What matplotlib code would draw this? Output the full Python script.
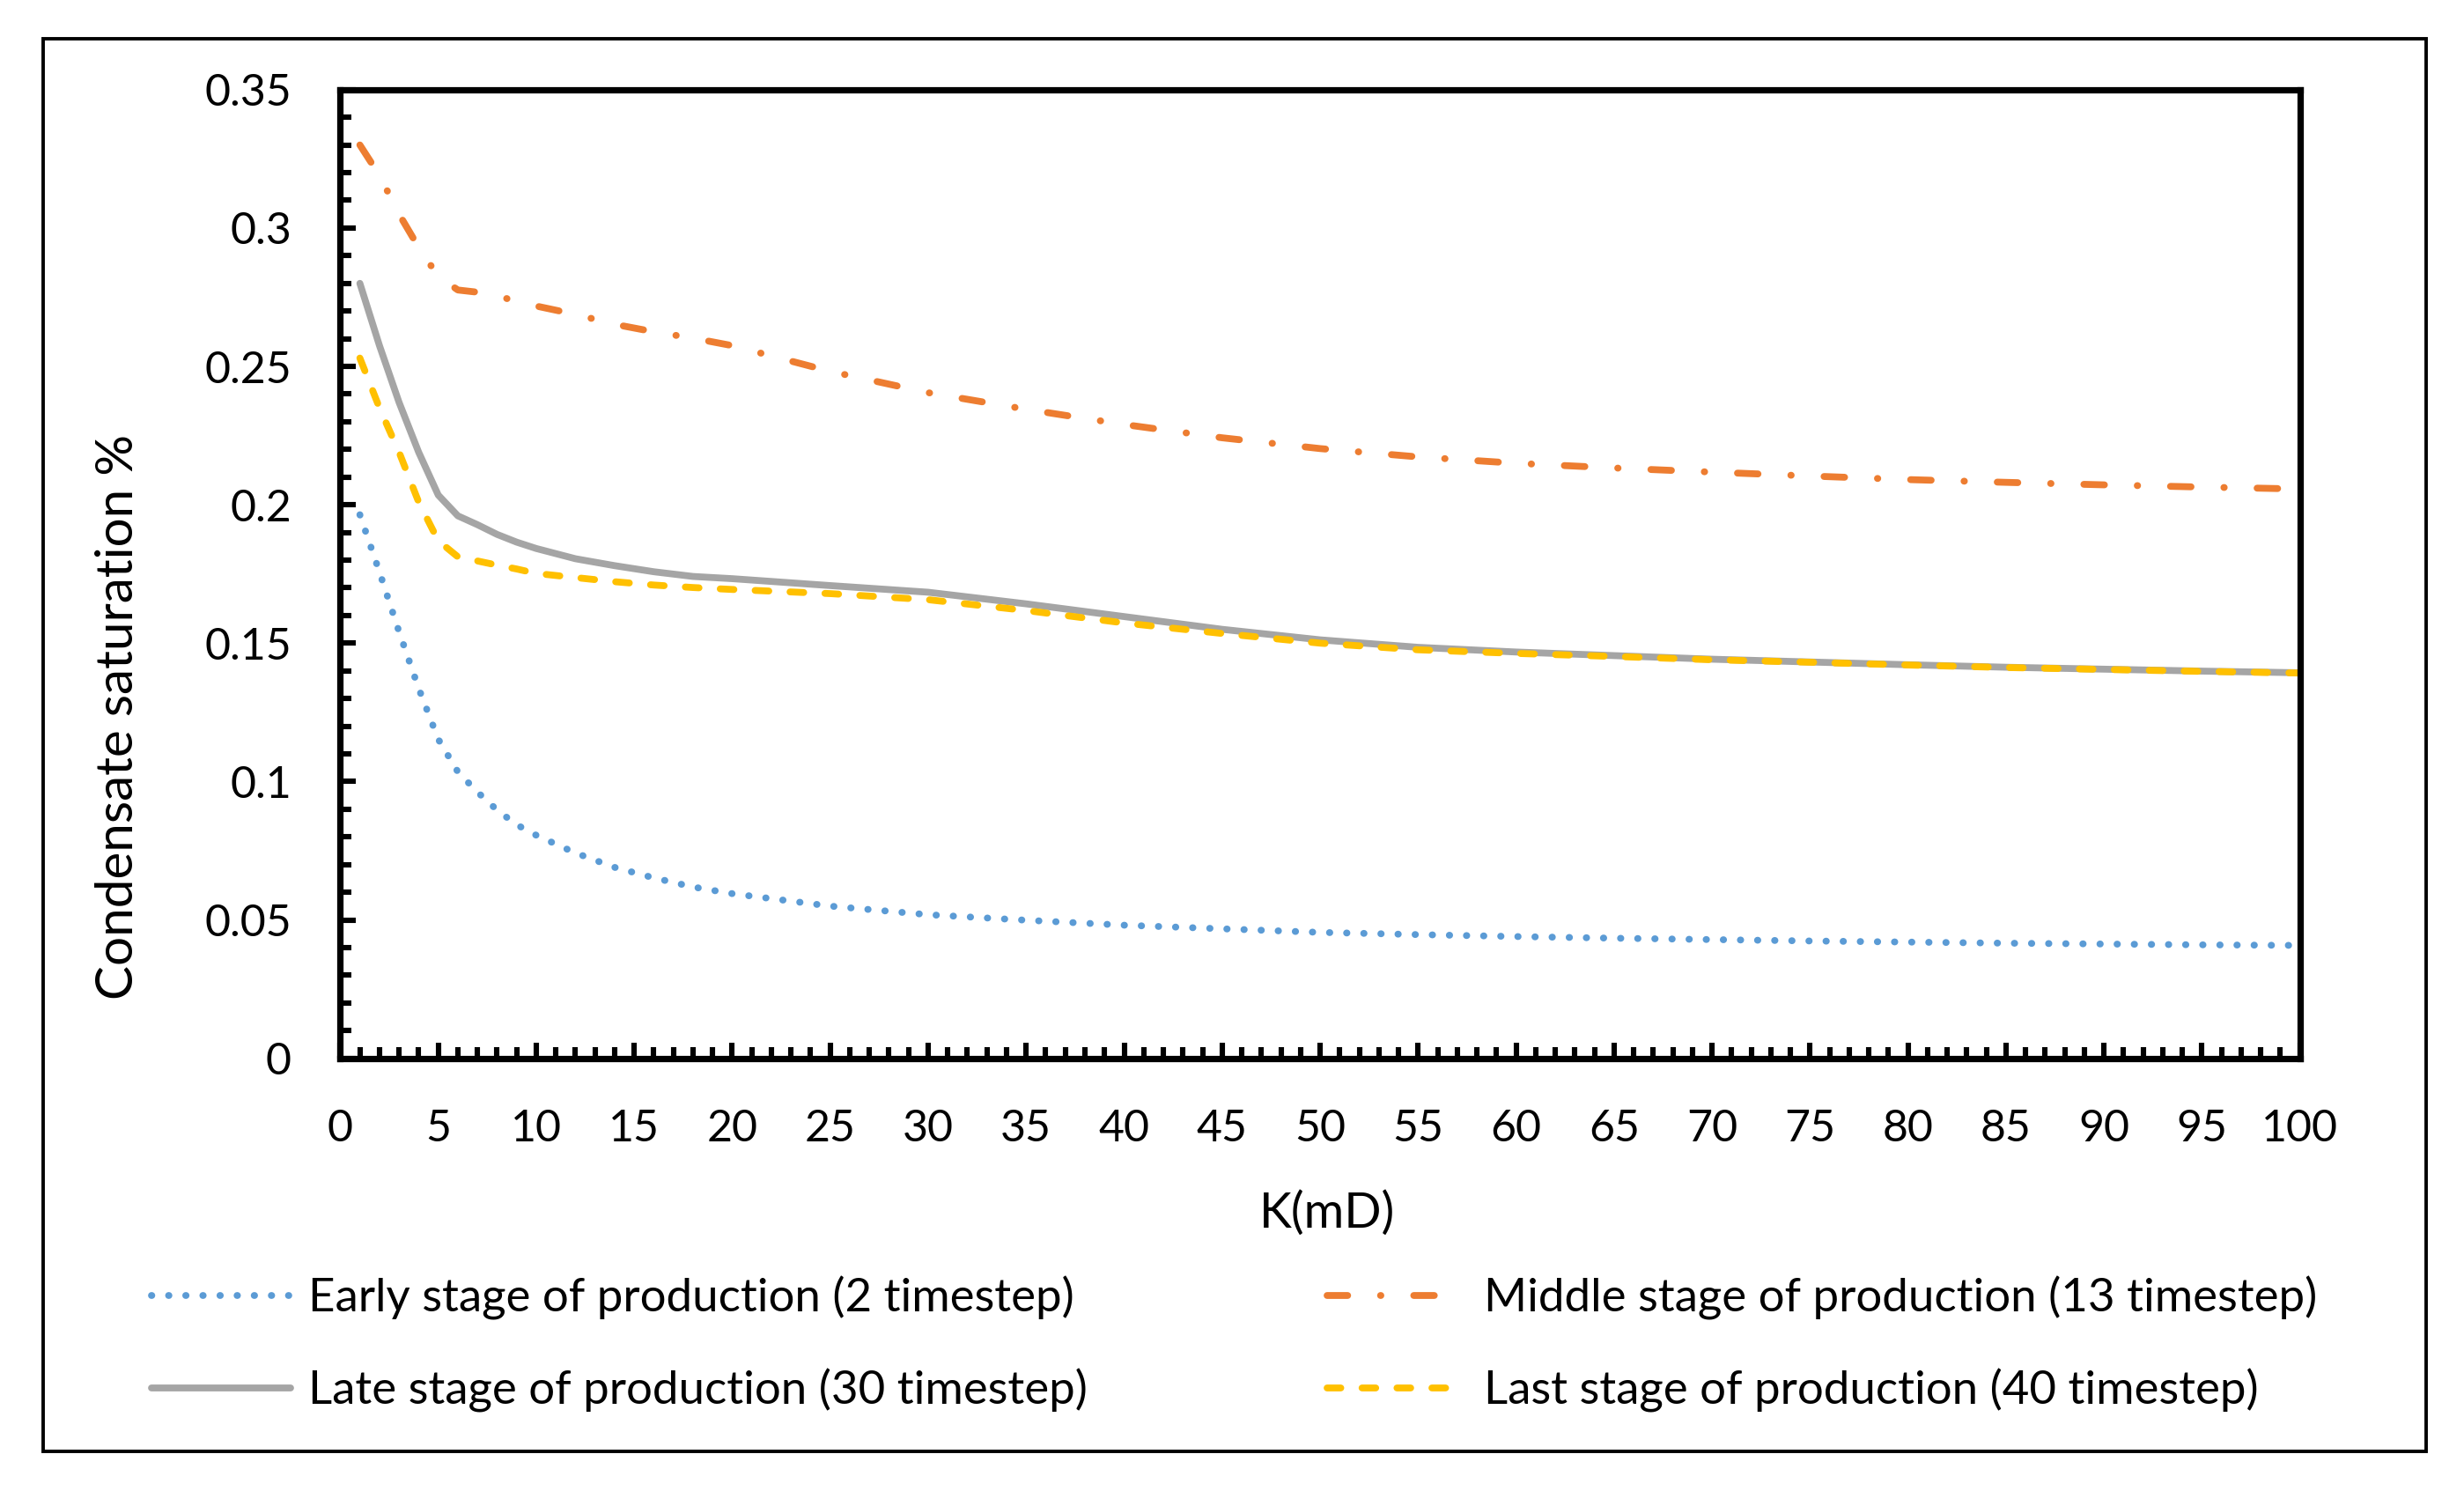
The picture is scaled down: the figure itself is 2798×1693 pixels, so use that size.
import numpy as np
import matplotlib
matplotlib.use('Agg')
import matplotlib.pyplot as plt
from matplotlib.patches import Rectangle
from matplotlib.ticker import MultipleLocator

plt.rcParams['font.family'] = ['Lato', 'DejaVu Sans']

# permeability K (mD)
k_md = [1, 2, 3, 4, 5, 6, 7, 8, 9, 10, 12, 14, 16, 18, 20, 25, 30, 35, 40,
        45, 50, 55, 60, 65, 70, 75, 80, 85, 90, 95, 100]

# condensate saturation
early = [0.1964, 0.1757, 0.1541, 0.1337, 0.1153, 0.1035, 0.0962, 0.0897, 0.0844,
         0.0806, 0.0742, 0.0690, 0.0652, 0.0619, 0.0595, 0.0550, 0.0519, 0.0499,
         0.0481, 0.0468, 0.0455, 0.0447, 0.0440, 0.0434, 0.0429, 0.0424, 0.0420,
         0.0416, 0.0413, 0.0410, 0.0408]
middle = [0.330, 0.319, 0.305, 0.293, 0.2825, 0.2776, 0.2768, 0.2755, 0.2735,
          0.2718, 0.2688, 0.2652, 0.2625, 0.2602, 0.2575, 0.2482, 0.2405, 0.2345,
          0.2290, 0.2242, 0.2203, 0.2173, 0.2150, 0.2133, 0.2118, 0.2104, 0.2091,
          0.2081, 0.2072, 0.2064, 0.2057]
late = [0.280, 0.2575, 0.237, 0.219, 0.2035, 0.1960, 0.1928, 0.1893, 0.1865,
        0.1842, 0.1805, 0.1780, 0.1758, 0.1741, 0.1733, 0.1708, 0.1684, 0.1642,
        0.1596, 0.1550, 0.1512, 0.1485, 0.1468, 0.1455, 0.1442, 0.1432, 0.1422,
        0.1413, 0.1406, 0.1399, 0.1393]
last = [0.253, 0.235, 0.219, 0.201, 0.187, 0.1812, 0.1797, 0.1782, 0.1768,
        0.1752, 0.1737, 0.1722, 0.1710, 0.1701, 0.1694, 0.1679, 0.1657, 0.1618,
        0.1573, 0.1535, 0.1500, 0.1476, 0.1463, 0.1452, 0.1440, 0.1431, 0.1421,
        0.1412, 0.1405, 0.1398, 0.1392]

labels = ['Early stage of production (2 timestep)',
          'Middle stage of production (13 timestep)',
          'Late stage of production (30 timestep)',
          'Last stage of production (40 timestep)']

fig = plt.figure(figsize=(13.99, 8.465), dpi=200)
ax = fig.add_axes([0.1381, 0.2902, 0.7953, 0.6497])

lw = 2.8
l_early, = ax.plot(k_md, early, color='#5B9BD5', lw=lw, linestyle=(0, (0.05, 2.45)),
                   dash_capstyle='round', solid_joinstyle='round')
l_middle, = ax.plot(k_md, middle, color='#ED7D31', lw=lw,
                    linestyle=(0, (3.0, 4.8, 0.05, 4.8)), dash_capstyle='round')
l_late, = ax.plot(k_md, late, color='#A5A5A5', lw=lw, solid_capstyle='round',
                  solid_joinstyle='round')
l_last, = ax.plot(k_md, last, color='#FFC000', lw=lw, linestyle=(0, (2.0, 3.1)),
                  dash_capstyle='round')

ax.set_xlim(0, 100)
ax.set_ylim(0, 0.35)
ax.xaxis.set_major_locator(MultipleLocator(5))
ax.xaxis.set_minor_locator(MultipleLocator(1))
ax.yaxis.set_minor_locator(MultipleLocator(0.01))
ax.set_yticks([0, 0.05, 0.1, 0.15, 0.2, 0.25, 0.3, 0.35])
ax.set_yticklabels(['0', '0.05', '0.1', '0.15', '0.2', '0.25', '0.3', '0.35'])

for s in ax.spines.values():
    s.set_linewidth(2.6)
ax.tick_params(which='both', direction='in', top=False, right=False, width=2.2,
               labelsize=18)
ax.tick_params(which='major', length=6.5)
ax.tick_params(which='minor', length=4.8)
ax.tick_params(axis='y', pad=20)
ax.tick_params(axis='x', pad=20.5)

ax.set_xlabel('K(mD)', fontsize=20, va='center')
ax.set_ylabel('Condensate saturation %', fontsize=21, va='center')
ax.xaxis.set_label_coords(0.5035, -0.160)
ax.yaxis.set_label_coords(-0.113, 0.3525)

leg_kw = dict(loc='center left', frameon=False, fontsize=19, handlelength=3.0,
              handletextpad=0.38, labelspacing=1.04, borderpad=0, borderaxespad=0)
leg1 = fig.legend([l_early, l_late], [labels[0], labels[2]],
                  bbox_to_anchor=(0.0615, 0.0983), **leg_kw)
leg2 = fig.legend([l_middle, l_last], [labels[1], labels[3]],
                  bbox_to_anchor=(0.5386, 0.0983), **leg_kw)

fig.add_artist(Rectangle((0.0175, 0.0266), 0.9671, 0.9474, transform=fig.transFigure,
                         fill=False, edgecolor='black', lw=1.4))

fig.savefig('out.png', dpi=200, facecolor='white')
